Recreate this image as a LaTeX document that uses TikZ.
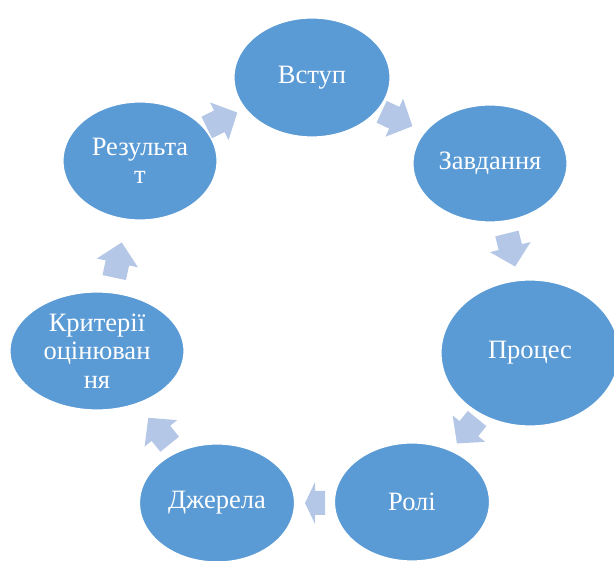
\documentclass[tikz,border=0pt]{standalone}
\usepackage{fontspec}
\setmainfont{Liberation Serif}
\usetikzlibrary{shapes.geometric}
\definecolor{ellblue}{RGB}{91,155,213}
\definecolor{arrblue}{RGB}{180,199,231}
\tikzset{
  cyc/.style={ellipse, fill=ellblue, draw=white, line width=1.2pt, text=white,
    align=center, inner sep=0pt, font=\fontsize{26.5}{28.5}\selectfont},
  blkarrow/.style={fill=arrblue, draw=none}
}
% #1 name, #2 x, #3 y, #4 angle, #5 total length, #6 head length
\newcommand\blkarr[6]{%
  \begin{scope}[shift={(#2,#3)}, rotate=#4]
    \coordinate (#1) at (0,0);
    \fill[blkarrow] (-#5/2,-12) -- (#5/2-#6,-12) -- (#5/2-#6,-21) -- (#5/2,0)
      -- (#5/2-#6,21) -- (#5/2-#6,12) -- (-#5/2,12) -- cycle;
  \end{scope}}
\begin{document}
\begin{tikzpicture}[x=1pt,y=-1pt]
\useasboundingbox (0,0) rectangle (614,561);
\clip (0,0) rectangle (614,561);
\node[cyc, minimum width=156pt, minimum height=119pt] (n1) at (312,77.5) {Вступ};
\node[cyc, minimum width=154pt, minimum height=117pt] (n2) at (490,163.5) {Завдання};
\node[cyc, minimum width=178pt, minimum height=146pt] (n3) at (530,353) {Процес};
\node[cyc, minimum width=155pt, minimum height=118pt] (n4) at (412,502) {Ролі};
\node[cyc, minimum width=155pt, minimum height=118pt] (n5) at (217,503) {Джерела};
\node[cyc, minimum width=174pt, minimum height=118pt] (n6) at (97,351) {Критерії\\оцінюван\\ня};
\node[cyc, minimum width=154pt, minimum height=118pt] (n7) at (140,161) {Результа\\т};
\blkarr{a1}{222}{120}{26}{34}{20}
\blkarr{a2}{397}{119}{-25}{34}{20}
\blkarr{a3}{511}{250}{-76}{34}{20}
\blkarr{a4}{467}{431}{-129}{32}{19}
\blkarr{a5}{315}{503}{180}{20}{10}
\blkarr{a6}{159}{431}{129}{34}{20}
\blkarr{a7}{118}{260}{78}{36}{21}
\end{tikzpicture}
\end{document}
